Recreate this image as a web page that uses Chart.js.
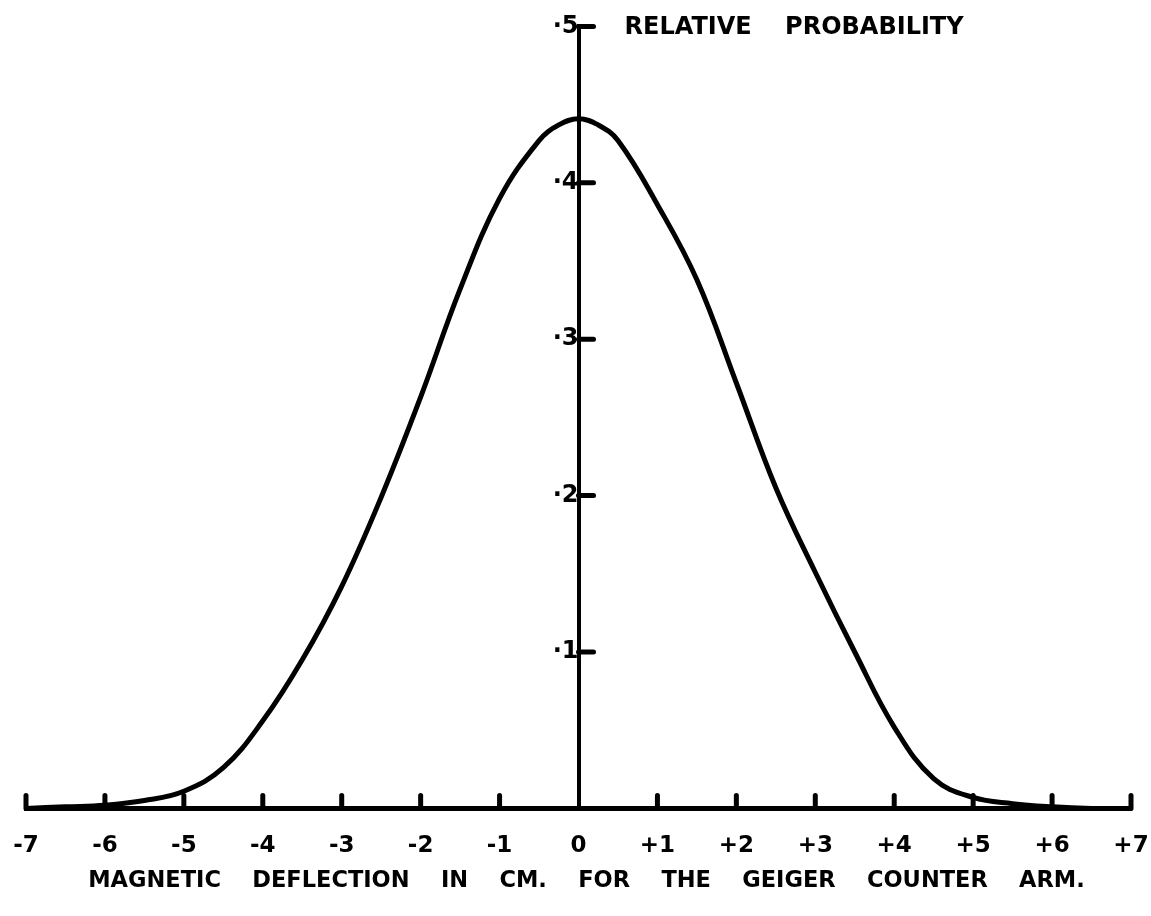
<!DOCTYPE html>
<html>
<head>
<meta charset="utf-8">
<script src="https://cdn.jsdelivr.net/npm/chart.js@4/dist/chart.umd.min.js"></script>
<style>
  html, body { margin: 0; padding: 0; background: #fff; }
</style>
</head>
<body>
<canvas id="chart" width="1151" height="916"></canvas>
<script>
// deflection in cm
const deflection = [-7, -6.5, -6, -5.5, -5, -4.5, -4, -3.5, -3, -2.5, -2, -1.5, -1, -0.5, -0.25,
  0, 0.25, 0.5, 1, 1.5, 2, 2.5, 3, 3.5, 4, 4.5, 5, 5.5, 6, 6.5, 7];
const probability = [0.000, 0.001, 0.002, 0.005, 0.011, 0.026, 0.056, 0.095, 0.142, 0.199, 0.263, 0.332, 0.390, 0.427, 0.437,
  0.441, 0.437, 0.427, 0.386, 0.338, 0.272, 0.205, 0.151, 0.100, 0.052, 0.019, 0.007, 0.003, 0.001, 0.000, 0.000];

const xTicks = [-7, -6, -5, -4, -3, -2, -1, 0, 1, 2, 3, 4, 5, 6, 7];
const xTickLabels = ['-7', '-6', '-5', '-4', '-3', '-2', '-1', '0', '+1', '+2', '+3', '+4', '+5', '+6', '+7'];
const yTicks = [0.1, 0.2, 0.3, 0.4, 0.5];
const yTickLabels = ['·1', '·2', '·3', '·4', '·5'];

const yTitle = 'RELATIVE    PROBABILITY';
const xTitle = 'MAGNETIC    DEFLECTION    IN    CM.    FOR    THE    GEIGER    COUNTER    ARM.';

const FONT = '"DejaVu Sans", sans-serif';

// hand-drawn tick dashes (right of the y axis, upward from the x axis) and the two titles
const handTicks = {
  id: 'handTicks',
  afterDraw(chart) {
    const { ctx, scales: { x, y } } = chart;
    const x0 = x.getPixelForValue(0);
    const y0 = y.getPixelForValue(0);
    ctx.save();
    ctx.strokeStyle = '#000';
    ctx.lineCap = 'round';
    ctx.lineWidth = 5;
    yTicks.forEach(v => {
      const py = y.getPixelForValue(v);
      ctx.beginPath();
      ctx.moveTo(x0, py);
      ctx.lineTo(x0 + 15, py);
      ctx.stroke();
    });
    xTicks.forEach(v => {
      if (v === 0) return;
      const px = x.getPixelForValue(v);
      ctx.beginPath();
      ctx.moveTo(px, y0);
      ctx.lineTo(px, y0 - 13);
      ctx.stroke();
    });
    ctx.fillStyle = '#000';
    ctx.textBaseline = 'middle';
    ctx.font = 'bold 24px ' + FONT;
    ctx.textAlign = 'left';
    ctx.fillText(yTitle, x0 + 46, y.getPixelForValue(0.5) + 1);
    ctx.font = 'bold 22.5px ' + FONT;
    ctx.textAlign = 'center';
    ctx.fillText(xTitle, x0 + 8, y0 + 73);
    ctx.restore();
  }
};

new Chart(document.getElementById('chart'), {
  type: 'line',
  data: {
    datasets: [{
      data: deflection.map((d, i) => ({ x: d, y: probability[i] })),
      borderColor: '#000',
      borderWidth: 5,
      pointRadius: 0,
      tension: 0.4,
      fill: false,
    }]
  },
  options: {
    responsive: false,
    animation: false,
    layout: { padding: { left: 26, right: 20, top: 23, bottom: 32 } },
    plugins: {
      legend: { display: false },
      tooltip: { enabled: false }
    },
    scales: {
      x: {
        type: 'linear',
        min: -7,
        max: 7,
        position: 'bottom',
        afterFit: s => { s.paddingLeft = 0; s.paddingRight = 0; },
        grid: { display: false, drawTicks: false },
        border: { color: '#000', width: 5 },
        ticks: {
          stepSize: 1,
          padding: 24,
          color: '#000',
          font: { family: FONT, size: 23, weight: 'bold' },
          maxRotation: 0,
          autoSkip: false,
          callback: v => xTickLabels[xTicks.indexOf(v)] ?? ''
        }
      },
      y: {
        type: 'linear',
        min: 0,
        max: 0.5,
        position: { x: 0 },
        afterFit: s => { s.width = 0; },
        grid: { display: false, drawTicks: false },
        border: { color: '#000', width: 4 },
        ticks: {
          stepSize: 0.1,
          padding: 12,
          color: '#000',
          font: { family: FONT, size: 24, weight: 'bold' },
          callback: v => {
            const i = yTicks.findIndex(t => Math.abs(t - v) < 1e-6);
            return i >= 0 ? yTickLabels[i] : '';
          }
        }
      }
    }
  },
  plugins: [handTicks]
});
</script>
</body>
</html>
